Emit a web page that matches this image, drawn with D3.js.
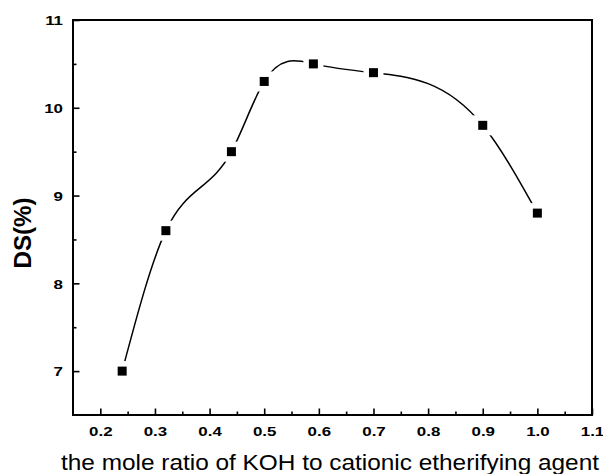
<!DOCTYPE html>
<html>
<head>
<meta charset="utf-8">
<script src="https://cdn.jsdelivr.net/npm/d3@7"></script>
<style>
  html, body { margin: 0; padding: 0; background: #fff; }
  svg { display: block; }
  text { font-family: "Liberation Sans", Arial, sans-serif; fill: #000; }
</style>
</head>
<body>
<svg id="chart" width="603" height="474"></svg>
<script>
// Molar ratio of KOH to cationic etherifying agent vs. degree of substitution
const ratios = [0.24, 0.32, 0.44, 0.50, 0.59, 0.70, 0.90, 1.00];
const dsValues = [7.0, 8.6, 9.5, 10.3, 10.5, 10.4, 9.8, 8.8];

const xMajorTicks = [0.2, 0.3, 0.4, 0.5, 0.6, 0.7, 0.8, 0.9, 1.0, 1.1];
const xMinorTicks = [0.25, 0.35, 0.45, 0.55, 0.65, 0.75, 0.85, 0.95, 1.05];
const yMajorTicks = [7, 8, 9, 10, 11];
const yMinorTicks = [7.5, 8.5, 9.5, 10.5];

const xTitle = "the mole ratio of KOH to cationic etherifying agent";
const yTitle = "DS(%)";

// Natural cubic spline y(x) over non-uniform x, emitted as Bezier segments
function curveSplineX(context) {
  return {
    areaStart() {}, areaEnd() {},
    lineStart() { this._x = []; this._y = []; },
    point(x, y) { this._x.push(+x); this._y.push(+y); },
    lineEnd() {
      const X = this._x, Y = this._y, n = X.length;
      if (n === 0) return;
      context.moveTo(X[0], Y[0]);
      if (n === 1) return;
      if (n === 2) { context.lineTo(X[1], Y[1]); return; }
      const h = [], d = [];
      for (let i = 0; i < n - 1; i++) {
        h.push(X[i + 1] - X[i]);
        d.push((Y[i + 1] - Y[i]) / h[i]);
      }
      // Tridiagonal solve for second derivatives (M0 = Mn-1 = 0)
      const M = new Array(n).fill(0);
      const c = [], r = [];
      for (let i = 1; i < n - 1; i++) {
        const a = h[i - 1], b = 2 * (h[i - 1] + h[i]), cc = h[i];
        let rhs = 6 * (d[i] - d[i - 1]);
        let diag = b;
        if (i > 1) { diag -= a * c[i - 2]; rhs -= a * r[i - 2]; }
        c.push(cc / diag);
        r.push(rhs / diag);
      }
      for (let i = n - 2; i >= 1; i--) {
        M[i] = r[i - 1] - (i < n - 2 ? c[i - 1] * M[i + 1] : 0);
      }
      for (let i = 0; i < n - 1; i++) {
        const m0 = d[i] - h[i] * (2 * M[i] + M[i + 1]) / 6;
        const m1 = d[i] + h[i] * (M[i] + 2 * M[i + 1]) / 6;
        const t = h[i] / 3;
        context.bezierCurveTo(X[i] + t, Y[i] + m0 * t, X[i + 1] - t, Y[i + 1] - m1 * t, X[i + 1], Y[i + 1]);
      }
    }
  };
}

const svg = d3.select("#chart");
const plot = { left: 73, right: 592, top: 20, bottom: 415 };

const x = d3.scaleLinear().domain([0.15, 1.1]).range([plot.left, plot.right]);
const y = d3.scaleLinear().domain([6.5, 11]).range([plot.bottom, plot.top]);

// Inward-pointing major and minor ticks
const gxMinor = svg.append("g")
  .attr("transform", `translate(0,${plot.bottom})`)
  .call(d3.axisBottom(x).tickValues(xMinorTicks).tickSize(-3.5).tickFormat(""));
const gx = svg.append("g")
  .attr("transform", `translate(0,${plot.bottom})`)
  .call(d3.axisBottom(x).tickValues(xMajorTicks).tickSizeInner(-6.5).tickSizeOuter(0)
    .tickPadding(0).tickFormat(d3.format(".1f")));

const gyMinor = svg.append("g")
  .attr("transform", `translate(${plot.left},0)`)
  .call(d3.axisLeft(y).tickValues(yMinorTicks).tickSize(-3.5).tickFormat(""));
const gy = svg.append("g")
  .attr("transform", `translate(${plot.left},0)`)
  .call(d3.axisLeft(y).tickValues(yMajorTicks).tickSizeInner(-6.5).tickSizeOuter(0)
    .tickPadding(0).tickFormat(d3.format("d")));

[gx, gy, gxMinor, gyMinor].forEach(g => {
  g.select(".domain").remove();
  g.selectAll(".tick line").attr("stroke", "#000").attr("stroke-width", 1.6);
});

gx.selectAll(".tick text")
  .attr("y", 21).attr("dy", 0)
  .attr("transform", "scale(1.3,1)")
  .style("font-size", "13px").style("font-weight", "bold");

gy.selectAll(".tick text")
  .attr("x", -10 / 1.3).attr("dy", "0.36em")
  .attr("text-anchor", "end")
  .attr("transform", "scale(1.3,1)")
  .style("font-size", "13px").style("font-weight", "bold");

// Plot frame
svg.append("rect")
  .attr("x", plot.left).attr("y", plot.top)
  .attr("width", plot.right - plot.left).attr("height", plot.bottom - plot.top)
  .attr("fill", "none").attr("stroke", "#000").attr("stroke-width", 2);

const points = ratios.map((r, i) => [r, dsValues[i]]);

// Spline through the measured points
const line = d3.line().x(d => x(d[0])).y(d => y(d[1])).curve(curveSplineX);
svg.append("path")
  .datum(points)
  .attr("d", line)
  .attr("fill", "none").attr("stroke", "#000").attr("stroke-width", 1.5);

// White halo leaves a small gap in the line around each marker
svg.selectAll("rect.halo").data(points).enter().append("rect")
  .attr("class", "halo")
  .attr("x", d => x(d[0]) - 10).attr("y", d => y(d[1]) - 10)
  .attr("width", 20).attr("height", 20)
  .attr("fill", "#fff");

svg.selectAll("rect.marker").data(points).enter().append("rect")
  .attr("class", "marker")
  .attr("x", d => x(d[0]) - 4.5).attr("y", d => y(d[1]) - 4.5)
  .attr("width", 9).attr("height", 9)
  .attr("fill", "#000");

// Axis titles
svg.append("text")
  .attr("x", 330).attr("y", 470)
  .attr("text-anchor", "middle")
  .attr("textLength", 538).attr("lengthAdjust", "spacingAndGlyphs")
  .style("font-size", "22px")
  .text(xTitle);

svg.append("text")
  .attr("transform", "translate(31,233) rotate(-90)")
  .attr("text-anchor", "middle")
  .attr("textLength", 71).attr("lengthAdjust", "spacingAndGlyphs")
  .style("font-size", "24px").style("font-weight", "bold")
  .text(yTitle);
</script>
</body>
</html>
